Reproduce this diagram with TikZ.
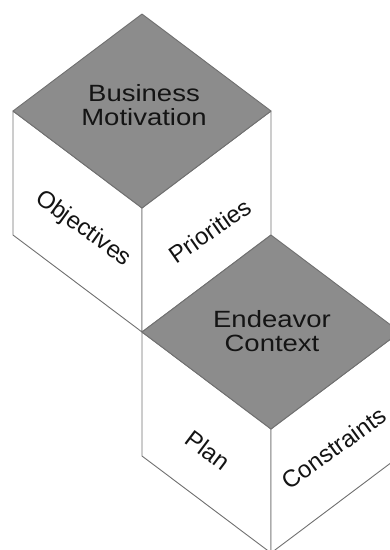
\documentclass[tikz,border=0pt]{standalone}
\usepackage{fontspec}
\setmainfont{Liberation Sans}
\definecolor{topgray}{RGB}{140,140,140}
\definecolor{edgegray}{RGB}{112,112,112}
\definecolor{txt}{RGB}{20,20,20}
\begin{document}
\begin{tikzpicture}[x=1pt,y=-1pt,
  face/.style={draw=edgegray,line width=0.9pt,line join=round,fill=white},
  topface/.style={face,fill=topgray},
  toplabel/.style={text=txt,align=center,font=\fontsize{23.5}{24.5}\selectfont,xscale=1.17,inner sep=0pt},
  sidelabel/.style={text=txt,font=\fontsize{24}{26}\selectfont,inner sep=0pt}]
\useasboundingbox (0,0) rectangle (390,550);
\clip (0,0) rectangle (390,550);
% cube 1
\coordinate (T1) at (142,14);
\coordinate (L1) at (13,111);
\coordinate (R1) at (271,111);
\coordinate (F1) at (142,208);
\coordinate (LB1) at (13,235);
\coordinate (RB1) at (271,235);
\coordinate (FB1) at (142,332);
% cube 2
\coordinate (T2) at (271,235);
\coordinate (L2) at (142,332);
\coordinate (R2) at (400,332);
\coordinate (F2) at (271,429);
\coordinate (LB2) at (142,456);
\coordinate (RB2) at (400,456);
\coordinate (FB2) at (271,553);
% faces
\draw[face] (L1) -- (F1) -- (FB1) -- (LB1) -- cycle;
\draw[face] (F1) -- (R1) -- (RB1) -- (FB1) -- cycle;
\draw[topface] (T1) -- (R1) -- (F1) -- (L1) -- cycle;
\draw[face] (L2) -- (F2) -- (FB2) -- (LB2) -- cycle;
\draw[face] (F2) -- (R2) -- (RB2) -- (FB2) -- cycle;
\draw[topface] (T2) -- (R2) -- (F2) -- (L2) -- cycle;
% labels
\node[toplabel] (bm) at (144,105) {Business\\Motivation};
\node[toplabel] (ec) at (272,331) {Endeavor\\Context};
\node[sidelabel,rotate=-36] (obj) at (83,229) {Objectives};
\node[sidelabel,rotate=35] (pri) at (210,231) {Priorities};
\node[sidelabel,rotate=-37] (plan) at (208,450) {Plan};
\node[sidelabel,rotate=36] (con) at (334,448) {Constraints};
\end{tikzpicture}
\end{document}
